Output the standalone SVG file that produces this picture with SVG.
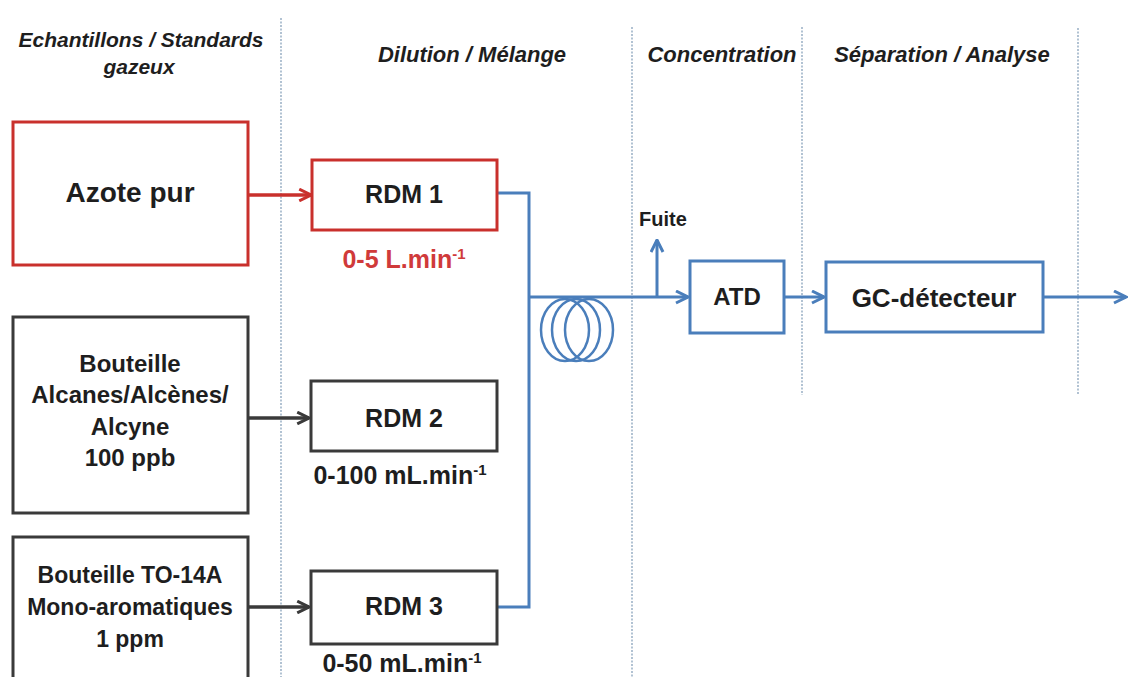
<svg xmlns="http://www.w3.org/2000/svg" width="1129" height="677" viewBox="0 0 1129 677">
<style>
  text { font-family: "Liberation Sans", Arial, sans-serif; font-weight: bold; fill: #1e1e1e; text-anchor: middle; }
  .hdr { font-style: italic; font-size: 22px; }
  .div { stroke: #9fb3c8; stroke-width: 1.6; stroke-dasharray: 2 1.5; fill: none; }
  .redbox { fill: #ffffff; stroke: #c9302c; stroke-width: 3; }
  .darkbox { fill: #ffffff; stroke: #3a3a3a; stroke-width: 3; }
  .bluebox { fill: #ffffff; stroke: #4a7ebb; stroke-width: 3; }
  .red { stroke: #c9302c; stroke-width: 3.5; fill: none; }
  .dark { stroke: #3a3a3a; stroke-width: 3.5; fill: none; }
  .blue { stroke: #4a7ebb; stroke-width: 3; fill: none; }
  .coil { stroke: #4a7ebb; stroke-width: 2.5; fill: none; }
  .redtxt { fill: #d03a3a; }
</style>
<defs>
  <marker id="arrRed" viewBox="0 0 10 10" refX="9" refY="5" markerWidth="4.2" markerHeight="4.2" orient="auto" markerUnits="strokeWidth">
    <path d="M1,1 L9,5 L1,9" fill="none" stroke="#c9302c" stroke-width="2"/>
  </marker>
  <marker id="arrDark" viewBox="0 0 10 10" refX="9" refY="5" markerWidth="4.2" markerHeight="4.2" orient="auto" markerUnits="strokeWidth">
    <path d="M1,1 L9,5 L1,9" fill="none" stroke="#3a3a3a" stroke-width="2"/>
  </marker>
  <marker id="arrBlue" viewBox="0 0 10 10" refX="9" refY="5" markerWidth="5" markerHeight="5" orient="auto" markerUnits="strokeWidth">
    <path d="M1,1 L9,5 L1,9" fill="none" stroke="#4a7ebb" stroke-width="2"/>
  </marker>
</defs>
<rect x="0" y="0" width="1129" height="677" fill="#ffffff"/>

<g id="dividers">
  <line class="div" x1="281" y1="18" x2="281" y2="677"/>
  <line class="div" x1="632" y1="27" x2="632" y2="677"/>
  <line class="div" x1="802" y1="27" x2="802" y2="395"/>
  <line class="div" x1="1078" y1="28" x2="1078" y2="395"/>
</g>

<g id="headers">
  <text class="hdr" x="141" y="47" style="font-size:21px">Echantillons / Standards</text>
  <text class="hdr" x="139" y="74" style="font-size:21px">gazeux</text>
  <text class="hdr" x="472" y="62">Dilution / Mélange</text>
  <text class="hdr" x="722" y="62">Concentration</text>
  <text class="hdr" x="942" y="62">Séparation / Analyse</text>
</g>

<g id="connectors">
  <line class="red" x1="248" y1="195" x2="311" y2="195" marker-end="url(#arrRed)"/>
  <line class="dark" x1="248" y1="418" x2="309" y2="418" marker-end="url(#arrDark)"/>
  <line class="dark" x1="248" y1="607" x2="309" y2="607" marker-end="url(#arrDark)"/>
  <path class="blue" d="M497,193 H529 V607 H497"/>
  <line class="blue" x1="529" y1="297" x2="688" y2="297" marker-end="url(#arrBlue)"/>
  <line class="blue" x1="657" y1="297" x2="657" y2="240" marker-end="url(#arrBlue)"/>
  <line class="blue" x1="784" y1="297" x2="824" y2="297" marker-end="url(#arrBlue)"/>
  <line class="blue" x1="1043" y1="297" x2="1126" y2="297" marker-end="url(#arrBlue)"/>
</g>

<g id="coil">
  <ellipse class="coil" cx="565" cy="330" rx="24" ry="31"/>
  <ellipse class="coil" cx="576" cy="330" rx="24" ry="31"/>
  <ellipse class="coil" cx="589" cy="330" rx="24" ry="31"/>
</g>

<g id="azote">
  <rect class="redbox" x="13" y="122" width="235" height="143"/>
  <text x="130" y="202" style="font-size:28px">Azote pur</text>
</g>

<g id="bouteille1">
  <rect class="darkbox" x="13" y="317" width="235" height="196"/>
  <text x="130" y="372" style="font-size:24px">Bouteille</text>
  <text x="130" y="403" style="font-size:24px">Alcanes/Alcènes/</text>
  <text x="130" y="435" style="font-size:24px">Alcyne</text>
  <text x="130" y="466" style="font-size:24px">100 ppb</text>
</g>

<g id="bouteille2">
  <rect class="darkbox" x="13" y="537" width="235" height="160"/>
  <text x="130" y="583" style="font-size:23px">Bouteille TO-14A</text>
  <text x="130" y="615" style="font-size:23px">Mono-aromatiques</text>
  <text x="130" y="647" style="font-size:23px">1 ppm</text>
</g>

<g id="rdm1">
  <rect class="redbox" x="312" y="160" width="185" height="70"/>
  <text x="404" y="203" style="font-size:25px">RDM 1</text>
  <text class="redtxt" x="404" y="268" style="font-size:25px">0-5 L.min<tspan dy="-9" style="font-size:15px">-1</tspan></text>
</g>

<g id="rdm2">
  <rect class="darkbox" x="311" y="381" width="186" height="70"/>
  <text x="404" y="427" style="font-size:25px">RDM 2</text>
  <text x="400" y="484" style="font-size:25px">0-100 mL.min<tspan dy="-9" style="font-size:15px">-1</tspan></text>
</g>

<g id="rdm3">
  <rect class="darkbox" x="311" y="571" width="186" height="73"/>
  <text x="404" y="615" style="font-size:25px">RDM 3</text>
  <text x="402" y="672" style="font-size:25px">0-50 mL.min<tspan dy="-9" style="font-size:15px">-1</tspan></text>
</g>

<g id="fuite">
  <text x="663" y="226" style="font-size:20px">Fuite</text>
</g>

<g id="atd">
  <rect class="bluebox" x="690" y="261" width="94" height="72"/>
  <text x="737" y="305" style="font-size:24px">ATD</text>
</g>

<g id="gc">
  <rect class="bluebox" x="826" y="262" width="217" height="70"/>
  <text x="934" y="307" style="font-size:26px">GC-détecteur</text>
</g>
</svg>
